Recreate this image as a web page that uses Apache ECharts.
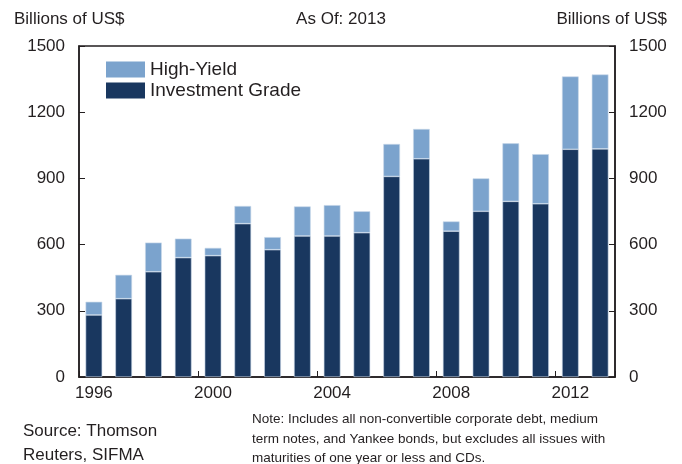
<!DOCTYPE html>
<html><head><meta charset="utf-8">
<script src="https://cdn.jsdelivr.net/npm/echarts@6/dist/echarts.min.js"></script>
<style>html,body{margin:0;padding:0;background:#fff}#c{width:682px;height:464px}</style>
</head><body><div id="c"></div>
<script>
const years = ['1996','1997','1998','1999','2000','2001','2002','2003','2004','2005','2006','2007','2008','2009','2010','2011','2012','2013'];
const investmentGrade = [281,355,477,541,550,695,577,639,639,654,909,989,661,751,796,785,1032,1034];
const totalIssuance = [341,463,609,627,585,775,634,773,779,751,1056,1124,705,900,1059,1010,1362,1371];
const highYield = totalIssuance.map((t,i)=>t-investmentGrade[i]);
const yTicks = [0,300,600,900,1200,1500];

const FONT = 'Liberation Sans';
const TXT = '#231f20';
const chart = echarts.init(document.getElementById('c'));
const yAxisBase = {
  type:'value', min:yTicks[0], max:yTicks[yTicks.length-1], interval:yTicks[1]-yTicks[0],
  axisLine:{show:true, lineStyle:{color:TXT, width:1.5}},
  axisTick:{show:true, inside:true, length:6, lineStyle:{color:TXT}},
  splitLine:{show:false},
  axisLabel:{fontFamily:FONT, fontSize:17, color:TXT, margin:14, formatter:v=>String(v)}
};
chart.setOption({
  animation:false,
  textStyle:{fontFamily:FONT},
  grid:{left:79, right:67, top:46, bottom:87, show:true, borderColor:TXT, borderWidth:1.5},
  title:[
    {text:'Billions of US$', left:9, top:6, textStyle:{fontFamily:FONT, fontSize:17, fontWeight:'normal', color:TXT}},
    {text:'As Of: 2013', left:'center', top:6, textStyle:{fontFamily:FONT, fontSize:17, fontWeight:'normal', color:TXT}},
    {text:'Billions of US$', right:10, top:6, textStyle:{fontFamily:FONT, fontSize:17, fontWeight:'normal', color:TXT}},
    {text:'Source: Thomson\nReuters, SIFMA', left:18, top:414, textStyle:{fontFamily:FONT, fontSize:17, fontWeight:'normal', color:TXT, lineHeight:24}},
    {text:'Note: Includes all non-convertible corporate debt, medium\nterm notes, and Yankee bonds, but excludes all issues with\nmaturities of one year or less and CDs.', left:247, top:405, textStyle:{fontFamily:FONT, fontSize:13.5, fontWeight:'normal', color:TXT, lineHeight:19.5}}
  ],
  legend:{
    left:101, top:55, orient:'vertical', itemWidth:39, itemHeight:16, itemGap:2,
    data:['High-Yield','Investment Grade'],
    textStyle:{fontFamily:FONT, fontSize:19, color:TXT, lineHeight:16, padding:[0,0,0,0]},
    itemStyle:{borderWidth:0},
    icon:'rect'
  },
  xAxis:{
    type:'category', data:years, boundaryGap:true,
    axisLine:{show:true, lineStyle:{color:TXT, width:1.5}},
    axisTick:{show:true, inside:true, length:6, interval:3, lineStyle:{color:TXT}},
    axisLabel:{interval:3, fontFamily:FONT, fontSize:17, color:TXT, margin:8}
  },
  yAxis:[
    Object.assign({position:'left'}, yAxisBase),
    Object.assign({position:'right'}, yAxisBase)
  ],
  series:[
    {name:'Investment Grade', type:'bar', stack:'t', data:investmentGrade, barWidth:'56%',
     itemStyle:{color:'#19375f', borderColor:'#c9d8ea', borderWidth:0.6}},
    {name:'High-Yield', type:'bar', stack:'t', data:highYield, barWidth:'56%',
     itemStyle:{color:'#7ba3cd', borderColor:'#c9d8ea', borderWidth:0.6}}
  ]
});
</script></body></html>
